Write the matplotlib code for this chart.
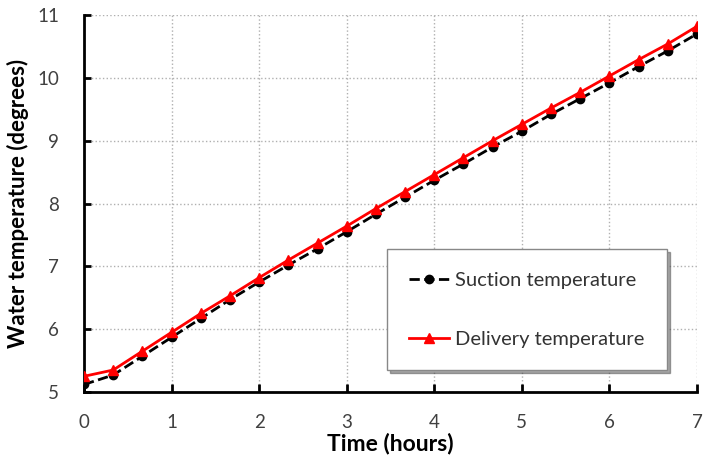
import numpy as np
import matplotlib.pyplot as plt

plt.rcParams['font.family'] = ['Lato', 'DejaVu Sans']

# Data (time in hours, every 20 minutes)
time_h = [0, 1/3, 2/3, 1, 4/3, 5/3, 2, 7/3, 8/3, 3, 10/3, 11/3,
          4, 13/3, 14/3, 5, 16/3, 17/3, 6, 19/3, 20/3, 7]
suction = [5.12, 5.27, 5.57, 5.87, 6.17, 6.47, 6.75, 7.02, 7.28, 7.55, 7.83,
           8.10, 8.37, 8.63, 8.90, 9.15, 9.42, 9.67, 9.92, 10.18, 10.43, 10.70]
delivery = [5.25, 5.35, 5.65, 5.95, 6.25, 6.53, 6.82, 7.10, 7.37, 7.64, 7.92,
            8.19, 8.46, 8.73, 9.00, 9.26, 9.52, 9.77, 10.03, 10.29, 10.54, 10.82]

fig = plt.figure(figsize=(7.03, 4.62), dpi=100)
ax = fig.add_axes([0.1195, 0.1515, 0.872, 0.816])

ax.plot(time_h, suction, color='black', linestyle='--', linewidth=2,
        marker='o', markersize=6, label='Suction temperature', zorder=3)
ax.plot(time_h, delivery, color='#ff0000', linestyle='-', linewidth=2,
        marker='^', markersize=7, label='Delivery temperature', zorder=4)

ax.set_xlim(0, 7)
ax.set_ylim(5, 11)
ax.set_xticks(range(0, 8))
ax.set_yticks(range(5, 12))
ax.grid(True, linestyle=':', color='#b0b0b0', linewidth=1)

for s in ['top', 'right']:
    ax.spines[s].set_visible(False)
for s in ['left', 'bottom']:
    ax.spines[s].set_linewidth(2)
ax.tick_params(axis='x', direction='in', length=6, width=2, labelsize=13.5,
               pad=16, labelcolor='#404040')
ax.tick_params(axis='y', direction='in', length=5, width=2, labelsize=13.5,
               pad=18, labelcolor='#404040')

ax.set_xlabel('Time (hours)', fontsize=16.5, fontweight='bold', labelpad=1)
ax.set_ylabel('Water temperature (degrees)', fontsize=16, fontweight='bold',
              labelpad=6)

leg = ax.legend(loc='lower left', bbox_to_anchor=(0.494, 0.058), fontsize=14.5,
                frameon=True, fancybox=False, shadow=True, labelspacing=2.1,
                handlelength=2.0, borderpad=1.1, handletextpad=0.3,
                borderaxespad=0)
leg.get_frame().set_edgecolor('#888888')
for t in leg.get_texts():
    t.set_color('#333333')

fig.savefig('out.png', dpi=100)
